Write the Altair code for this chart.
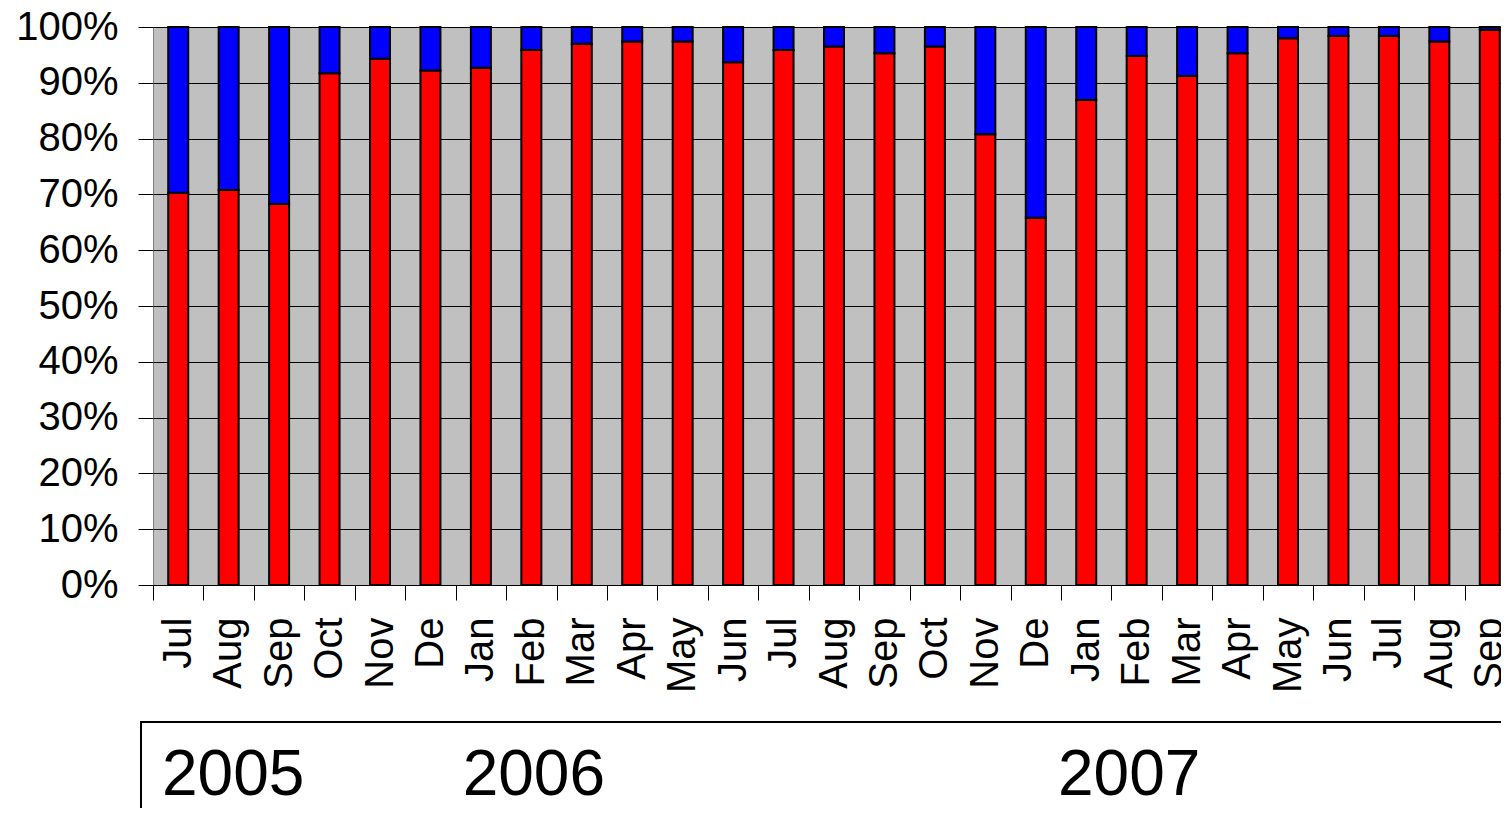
import altair as alt
import pandas as pd

months = ["Jul", "Aug", "Sep", "Oct", "Nov", "De", "Jan", "Feb", "Mar", "Apr", "May", "Jun",
          "Jul", "Aug", "Sep", "Oct", "Nov", "De", "Jan", "Feb", "Mar", "Apr", "May", "Jun",
          "Jul", "Aug", "Sep"]
red_share = [70.3, 70.8, 68.3, 91.7, 94.3, 92.2, 92.7, 95.9, 97.0, 97.4, 97.4, 93.7,
             95.9, 96.5, 95.3, 96.5, 80.8, 65.8, 86.9, 94.8, 91.2, 95.3, 98.0, 98.4,
             98.4, 97.4, 99.5]
years = ["2005", "2006", "2007"]
year_start_index = [0, 6, 18]
year_dx = [9, 7, -3]
y_ticks = [0, 0.1, 0.2, 0.3, 0.4, 0.5, 0.6, 0.7, 0.8, 0.9, 1.0]

FONT = "Liberation Sans, Arial, sans-serif"
W, H = 1348, 558      # visible plot width (svg stops at the window edge)
RANGE_W = 1362         # full band range, partly beyond the window as in the reference

keys = [f"{i:02d}" for i in range(len(months))]
df = pd.DataFrame({
    "key": keys,
    "red": [v / 100 for v in red_share],
})
df["zero"] = 0.0
df["one"] = 1.0

label_expr = "[" + ",".join(f"'{m}'" for m in months) + "][toNumber(datum.value)]"

x_scale = alt.Scale(paddingInner=0, paddingOuter=0, range=[0, RANGE_W])

x_enc = alt.X(
    "key:N",
    sort=keys,
    scale=x_scale,
    axis=alt.Axis(
        title=None,
        labelExpr=label_expr,
        labelAngle=270,
        labelFont=FONT,
        labelFontSize=40,
        labelColor="black",
        labelPadding=17,
        tickBand="extent",
        tickSize=15,
        tickColor="black",
        tickWidth=1,
        domainColor="black",
        domainWidth=1,
        grid=False,
    ),
)

y_axis = alt.Axis(
    title=None,
    values=y_ticks,
    format=".0%",
    labelFont=FONT,
    labelFontSize=40,
    labelColor="black",
    labelPadding=20,
    tickSize=15,
    tickColor="black",
    tickWidth=1,
    domain=False,
    grid=True,
    gridColor="black",
    gridWidth=1,
)

base = alt.Chart(df)

red = base.mark_bar(size=20, color="#FF0000", stroke="black", strokeWidth=2).encode(
    x=x_enc,
    y=alt.Y("zero:Q", scale=alt.Scale(domain=[0, 1], nice=False), axis=y_axis),
    y2="red:Q",
)

blue = base.mark_bar(size=20, color="#0000FF", stroke="black", strokeWidth=2).encode(
    x=x_enc,
    y=alt.Y("red:Q"),
    y2="one:Q",
)

box = alt.Chart(pd.DataFrame({"b": [0]})).mark_rect(
    fillOpacity=0, stroke="black", strokeWidth=2
).encode(
    x=alt.value(-12), x2=alt.value(W + 200), y=alt.value(695), y2=alt.value(900)
)

layers = [red, blue, box]
for yr, idx, dx in zip(years, year_start_index, year_dx):
    t = alt.Chart(pd.DataFrame({"key": [keys[idx]], "year": [yr]})).mark_text(
        align="left", baseline="alphabetic", fontSize=64, font=FONT, color="black", dx=dx
    ).encode(
        x=alt.X("key:N", sort=keys, bandPosition=0),
        y=alt.value(768),
        text="year:N",
    )
    layers.append(t)

chart = alt.layer(*layers).properties(
    width=W,
    height=H,
    padding={"left": 145, "top": 19, "right": 0, "bottom": 223},
    autosize=alt.AutoSizeParams(type="none"),
    background="white",
).configure_view(
    fill="#C0C0C0", stroke="#808080", strokeWidth=1
)

chart.save("out.html", embed_options={"renderer": "svg", "actions": False})
